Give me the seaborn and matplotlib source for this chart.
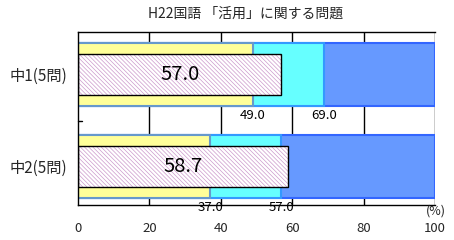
import matplotlib
matplotlib.use("Agg")
import matplotlib.pyplot as plt
import seaborn as sns
import numpy as np
import pandas as pd

categories = ['中1(5問)', '中2(5問)']
seg1 = [49.0, 37.0]
seg2 = [20.0, 20.0]
seg3 = [31.0, 43.0]
avg = [57.0, 58.7]
xticks = [0, 20, 40, 60, 80, 100]

sns.set_theme(style="white")
plt.rcParams['font.family'] = ['Noto Sans CJK JP', 'DejaVu Sans']
plt.rcParams['hatch.linewidth'] = 0.5

c1 = np.array(seg1)
c2 = c1 + np.array(seg2)
c3 = c2 + np.array(seg3)
df = pd.DataFrame({'cat': categories, 'c1': c1, 'c2': c2, 'c3': c3, 'avg': avg})

fig = plt.figure(figsize=(4.54, 2.40), dpi=100)
ax = fig.add_axes([78/454, 1-205/240, (435-78)/454, (205-32)/240])

bw = 0.685
sns.barplot(data=df, y='cat', x='c3', orient='h', color='#6699FF', edgecolor='#3366FF',
            linewidth=1.5, width=bw, ax=ax, saturation=1)
sns.barplot(data=df, y='cat', x='c2', orient='h', color='#66FFFF', edgecolor='#3399FF',
            linewidth=1.5, width=bw, ax=ax, saturation=1)
sns.barplot(data=df, y='cat', x='c1', orient='h', color='#FFFF99', edgecolor='#6699CC',
            linewidth=1.5, width=bw, ax=ax, saturation=1)
hw = 0.446
sns.barplot(data=df, y='cat', x='avg', orient='h', color='white', edgecolor='#CC99CC',
            hatch='\\' * 8, linewidth=0, width=hw, ax=ax, saturation=1)
sns.barplot(data=df, y='cat', x='avg', orient='h', fill=False, edgecolor='black',
            linewidth=1.0, width=hw, ax=ax)

for i in range(len(categories)):
    ax.text(avg[i] / 2, i, f'{avg[i]:.1f}', ha='center', va='center', fontsize=14.5, color='black')
    ax.text(c1[i], i + 0.44, f'{c1[i]:.1f}', ha='center', va='center', fontsize=9.5, color='black')
    ax.text(c2[i], i + 0.44, f'{c2[i]:.1f}', ha='center', va='center', fontsize=9.5, color='black')

ax.set_xlim(0, 100)
ax.set_ylim(1.418, -0.462)
ax.set_xticks(xticks)
ax.set_xticklabels([str(t) for t in xticks], fontsize=9.5)
ax.set_yticks([0, 1])
ax.set_yticklabels(categories, fontsize=11)
ax.set_xlabel('')
ax.set_ylabel('')
for x in xticks[1:]:
    ax.axvline(x, color='black', linewidth=1.0, zorder=0)
for s in ax.spines.values():
    s.set_color('black')
    s.set_linewidth(1.0)
ax.spines['right'].set_visible(False)
ax.tick_params(axis='x', length=0, pad=12)
ax.tick_params(axis='y', length=0, pad=8)
ax.plot([0, 0.01], [0.5, 0.5], color='black', linewidth=1.0,
        transform=ax.get_yaxis_transform(), clip_on=False)

fig.text(246/454, 1-14/240, 'H22国語 「活用」に関する問題', ha='center', va='center', fontsize=10)
fig.text(436/454, 1-211/240, '(%)', ha='center', va='center', fontsize=9)

fig.savefig('out.png', dpi=100)
